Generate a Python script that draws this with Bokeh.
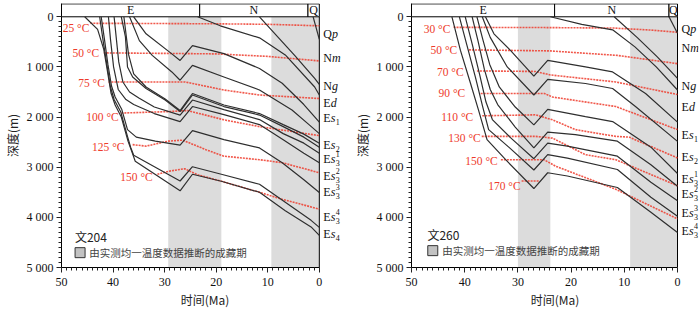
from bokeh.plotting import figure
from bokeh.models import Range1d, FixedTicker
from bokeh.layouts import row
from bokeh.core.properties import value
from bokeh.embed import file_html
from bokeh.resources import INLINE

SERIF = "'Liberation Serif'"
CJK = "'Noto Sans CJK SC'"
RED = "#ee3b2b"
BAND_GRAY = "#dcdcdc"
LINE_COLOR = "#2e2e2e"

# ---------------- axes ----------------
X_TICKS = [0, 10, 20, 30, 40, 50]
X_MINOR = list(range(0, 51))
Y_TICKS = [0, 1000, 2000, 3000, 4000, 5000]
Y_TICK_LABELS = ["0", "1 000", "2 000", "3 000", "4 000", "5 000"]
Y_MINOR = list(range(0, 5001, 100))
PERIOD_NAMES = ["E", "N", "Q"]

# ---------------- well 文204 ----------------
W204_NAME = "文204"
W204_PERIOD_EDGES = [50, 23.2, 2.2, 0]
W204_CHARGE_START = [29.3, 9.3]
W204_CHARGE_END = [19.0, 0.0]

w204_qp_t = [1.2, 0.0]
w204_qp_d = [0, 450]
w204_nm_t = [11.6, 7.8, 4.7, 0.9, 0.0]
w204_nm_d = [0, 430, 780, 1230, 1350]
w204_ng_t = [23.6, 19.2, 11.6, 6.6, 0.9, 0.0]
w204_ng_d = [0, 180, 420, 760, 1400, 1560]
w204_ed_t = [36.0, 33.6, 28.6, 27.0, 24.6, 18.5, 11.6, 7.2, 3.0, 0.0]
w204_ed_d = [0, 340, 740, 870, 575, 735, 1030, 1325, 1750, 2100]
w204_es1_t = [36.8, 34.9, 32.4, 28.6, 27.0, 24.6, 18.5, 11.6, 5.3, 2.0, 0.0]
w204_es1_d = [0, 475, 770, 1100, 1265, 970, 1200, 1460, 1860, 2150, 2330]
w204_es2a_t = [37.9, 37.4, 37.0, 36.0, 33.6, 29.9, 27.0, 24.6, 18.5, 11.6, 7.0, 3.0, 0.0]
w204_es2a_d = [0, 420, 750, 1140, 1400, 1640, 1870, 1530, 1760, 1930, 2150, 2340, 2520]
w204_es2_t = [38.4, 37.6, 37.2, 36.2, 33.6, 29.9, 27.0, 24.6, 18.5, 11.6, 7.0, 3.0, 0.0]
w204_es2_d = [0, 400, 1000, 1200, 1430, 1660, 1890, 1560, 1790, 1960, 2190, 2400, 2600]
w204_es31_t = [39.8, 39.4, 38.9, 38.1, 36.8, 35.0, 32.0, 27.0, 24.6, 18.5, 11.6, 7.0, 3.0, 0.0]
w204_es31_d = [0, 400, 900, 1300, 1500, 1620, 1800, 1960, 1660, 1850, 2050, 2330, 2520, 2720]
w204_es32_t = [40.9, 40.5, 39.9, 39.0, 37.5, 36.0, 32.0, 27.0, 24.6, 18.5, 11.6, 7.0, 3.0, 0.0]
w204_es32_d = [0, 450, 1000, 1450, 1650, 1750, 1930, 2090, 1790, 1950, 2150, 2450, 2720, 2910]
w204_es33_t = [42.3, 41.6, 41.0, 40.3, 39.6, 38.3, 37.2, 35.5, 31.8, 27.0, 24.6, 18.5, 11.6, 7.2, 3.0, 0.0]
w204_es33_d = [0, 500, 950, 1380, 1600, 1850, 2250, 2400, 2480, 2560, 2270, 2450, 2615, 2910, 3250, 3505]
w204_es34_t = [42.6, 41.9, 41.2, 40.5, 39.8, 38.5, 37.3, 36.6, 36.0, 27.0, 24.6, 19.0, 11.6, 6.6, 1.6, 0.0]
w204_es34_d = [0, 500, 950, 1400, 1650, 1900, 2350, 2600, 2760, 3275, 2990, 3140, 3340, 3700, 4060, 4200]
w204_es4_t = [45.5, 43.0, 41.8, 41.1, 40.4, 39.6, 38.4, 37.1, 36.4, 35.7, 27.0, 24.6, 19.0, 11.6, 6.6, 1.6, 0.0]
w204_es4_d = [0, 250, 650, 1080, 1520, 1760, 2000, 2480, 2680, 2880, 3470, 3140, 3280, 3500, 3870, 4190, 4360]

w204_t25_t = [44.4, 30.0, 20.0, 10.0, 0.0]
w204_t25_d = [130, 135, 140, 150, 180]
w204_t50_t = [41.8, 30.0, 20.0, 10.0, 0.0]
w204_t50_d = [720, 730, 740, 790, 880]
w204_t75_t = [40.9, 29.0, 26.0, 18.5, 11.6, 0.0]
w204_t75_d = [1300, 1300, 1300, 1460, 1560, 1630]
w204_t100_t = [38.4, 29.0, 25.5, 18.5, 11.6, 0.0]
w204_t100_d = [1920, 1890, 1870, 2055, 2190, 2370]
w204_t125_t = [36.2, 33.6, 29.3, 26.5, 22.0, 18.5, 11.6, 7.2, 0.0]
w204_t125_d = [2550, 2580, 2480, 2460, 2650, 2780, 2850, 2910, 3110]
w204_t150_t = [31.4, 29.2, 26.1, 23.6, 19.0, 11.6, 7.2, 0.0]
w204_t150_d = [3140, 3080, 3030, 3150, 3280, 3500, 3640, 3835]

W204_TEMP_TEXT = ["25 °C", "50 °C", "75 °C", "100 °C", "125 °C", "150 °C"]
W204_TEMP_TEXT_T = [44.6, 42.7, 41.6, 38.9, 37.8, 32.3]
W204_TEMP_TEXT_D = [217, 730, 1325, 1995, 2590, 3200]

W204_UNITS = ["Qp", "Nm", "Ng", "Ed", "Es1", "Es2", "Es3^1", "Es3^2", "Es3^3", "Es3^4", "Es4"]
W204_UNIT_DEPTH = [336, 830, 1383, 1719, 2016, 2549, 2846, 3182, 3498, 3992, 4328]

# ---------------- well 文260 ----------------
W260_NAME = "文260"
W260_PERIOD_EDGES = [50, 23.1, 1.6, 0]
W260_CHARGE_START = [30.0, 8.9]
W260_CHARGE_END = [23.9, 0.0]

w260_qp_t = [1.6, 0.0]
w260_qp_d = [0, 330]
w260_nm_t = [11.9, 7.5, 3.8, 0.0]
w260_nm_d = [0, 420, 800, 1230]
w260_ng_t = [23.9, 18.0, 12.2, 8.0, 4.0, 0.0]
w260_ng_d = [0, 150, 260, 600, 1000, 1460]
w260_ed_t = [36.1, 34.5, 31.4, 27.0, 24.4, 17.3, 12.2, 6.0, 0.0]
w260_ed_d = [0, 340, 670, 1185, 870, 1000, 1100, 1530, 2100]
w260_es1_t = [36.7, 35.2, 32.0, 27.0, 24.4, 17.3, 12.2, 7.9, 0.0]
w260_es1_d = [0, 410, 1000, 1560, 1250, 1330, 1430, 1790, 2485]
w260_es2_t = [37.7, 36.6, 35.3, 33.5, 30.5, 27.0, 24.4, 17.3, 12.2, 5.0, 0.0]
w260_es2_d = [0, 450, 950, 1400, 1800, 2155, 1845, 1990, 2090, 2600, 3125]
w260_es31_t = [38.6, 37.5, 36.3, 35.2, 33.8, 30.5, 27.0, 24.4, 19.2, 11.3, 5.0, 0.0]
w260_es31_d = [0, 480, 1050, 1450, 1750, 2200, 2615, 2300, 2350, 2480, 2950, 3380]
w260_es32_t = [39.9, 38.6, 37.2, 36.0, 34.8, 31.5, 27.0, 24.4, 20.7, 11.3, 5.0, 0.0]
w260_es32_d = [0, 540, 1150, 1700, 2050, 2400, 2830, 2520, 2580, 2780, 3300, 3670]
w260_es33_t = [41.0, 39.6, 38.0, 36.6, 35.5, 31.5, 27.0, 24.4, 20.7, 11.3, 5.0, 0.0]
w260_es33_d = [0, 560, 1200, 1800, 2250, 2620, 3055, 2750, 2820, 3045, 3600, 3980]
w260_es34_t = [42.4, 40.8, 38.9, 37.4, 35.8, 32.3, 27.0, 24.4, 20.7, 11.3, 5.0, 0.0]
w260_es34_d = [0, 670, 1330, 1860, 2450, 2850, 3425, 3110, 3175, 3405, 3900, 4300]

w260_t30_t = [42.1, 25.0, 12.0, 5.0, 0.0]
w260_t30_d = [210, 215, 225, 265, 310]
w260_t50_t = [39.2, 24.0, 11.3, 0.0]
w260_t50_d = [660, 680, 770, 935]
w260_t70_t = [37.7, 26.7, 23.9, 11.6, 0.0]
w260_t70_d = [1080, 1090, 1160, 1300, 1550]
w260_t90_t = [37.0, 25.0, 23.5, 11.6, 0.0]
w260_t90_d = [1530, 1530, 1600, 1790, 2250]
w260_t110_t = [36.7, 26.7, 23.5, 19.2, 11.6, 9.1, 0.0]
w260_t110_d = [1975, 1955, 2055, 2250, 2385, 2400, 2815]
w260_t130_t = [36.8, 26.7, 23.5, 17.3, 11.6, 0.0]
w260_t130_d = [2385, 2385, 2420, 2750, 2850, 3370]
w260_t150_t = [33.2, 25.1, 22.9, 11.6, 0.0]
w260_t150_d = [2850, 2850, 2980, 3440, 4030]
w260_t170_t = [29.3, 26.1]
w260_t170_d = [3275, 3275]

W260_TEMP_TEXT = ["30 °C", "50 °C", "70 °C", "90 °C", "110 °C", "130 °C", "150 °C", "170 °C"]
W260_TEMP_TEXT_T = [42.7, 41.4, 40.2, 39.9, 38.4, 37.0, 33.8, 29.5]
W260_TEMP_TEXT_D = [237, 672, 1107, 1520, 1996, 2411, 2885, 3380]

W260_UNITS = ["Qp", "Nm", "Ng", "Ed", "Es1", "Es2", "Es3^1", "Es3^2", "Es3^3", "Es3^4"]
W260_UNIT_DEPTH = [237, 632, 1383, 1798, 2352, 2806, 3241, 3538, 3913, 4269]

LEGEND_TEXT = "由实测均一温度数据推断的成藏期"

W204_LINES = [(w204_qp_t, w204_qp_d), (w204_nm_t, w204_nm_d), (w204_ng_t, w204_ng_d),
              (w204_ed_t, w204_ed_d), (w204_es1_t, w204_es1_d), (w204_es2a_t, w204_es2a_d),
              (w204_es2_t, w204_es2_d), (w204_es31_t, w204_es31_d), (w204_es32_t, w204_es32_d),
              (w204_es33_t, w204_es33_d), (w204_es34_t, w204_es34_d), (w204_es4_t, w204_es4_d)]
W204_ISO = [(w204_t25_t, w204_t25_d), (w204_t50_t, w204_t50_d), (w204_t75_t, w204_t75_d),
            (w204_t100_t, w204_t100_d), (w204_t125_t, w204_t125_d), (w204_t150_t, w204_t150_d)]
W260_LINES = [(w260_qp_t, w260_qp_d), (w260_nm_t, w260_nm_d), (w260_ng_t, w260_ng_d),
              (w260_ed_t, w260_ed_d), (w260_es1_t, w260_es1_d), (w260_es2_t, w260_es2_d),
              (w260_es31_t, w260_es31_d), (w260_es32_t, w260_es32_d), (w260_es33_t, w260_es33_d),
              (w260_es34_t, w260_es34_d)]
W260_ISO = [(w260_t30_t, w260_t30_d), (w260_t50_t, w260_t50_d), (w260_t70_t, w260_t70_d),
            (w260_t90_t, w260_t90_d), (w260_t110_t, w260_t110_d), (w260_t130_t, w260_t130_d),
            (w260_t150_t, w260_t150_d), (w260_t170_t, w260_t170_d)]

# ---------------- layout / style helpers ----------------
BASE_W = {"E": 7.4, "N": 8.7, "Q": 8.7}
ITAL_W = {"s": 4.8, "d": 6.0, "p": 6.0, "m": 8.7, "g": 6.0}
BAND_TOP = -257
RANGE_TOP = -265
HEIGHT = 310


def unit_labels(p, names, depths):
    bases, itals, x_it = [], [], []
    subs, sub_y, sub_x = [], [], []
    sups, sup_y, sup_x = [], [], []
    x0 = 4
    for name, dep in zip(names, depths):
        base, ital, rest = name[0], name[1], name[2:]
        bases.append(base)
        itals.append(ital)
        x1 = x0 + BASE_W[base]
        x_it.append(x1)
        x2 = x1 + ITAL_W[ital] + 0.3
        if rest:
            if "^" in rest:
                sub, sup = rest.split("^")
                sups.append(sup)
                sup_y.append(dep)
                sup_x.append(x2)
            else:
                sub = rest
            subs.append(sub)
            sub_y.append(dep)
            sub_x.append(x2)
    n = len(names)
    p.text(x=[0] * n, y=depths, text=bases, x_offset=x0, text_font=value(SERIF),
           text_font_size="12px", text_baseline="middle", text_color="#111")
    p.text(x=[0] * n, y=depths, text=itals, x_offset=x_it, text_font=value(SERIF),
           text_font_style="italic", text_font_size="12px", text_baseline="middle",
           text_color="#111")
    p.text(x=[0] * len(subs), y=sub_y, text=subs, x_offset=sub_x, y_offset=4,
           text_font=value(SERIF), text_font_size="8px", text_baseline="middle",
           text_color="#111")
    p.text(x=[0] * len(sups), y=sup_y, text=sups, x_offset=sup_x, y_offset=-5,
           text_font=value(SERIF), text_font_size="8px", text_baseline="middle",
           text_color="#111")


def make_panel(width, bl, px_per_ma, name, edges, cs, ce, lines, isos, ttext, tt, td,
               units, udepth, name_pos, box_pos, legend_pos):
    br = 2
    frame_w = width - bl - br
    x_end = -(frame_w - 50 * px_per_ma) / px_per_ma
    p = figure(width=width, height=HEIGHT, x_range=Range1d(50, x_end),
               y_range=Range1d(5000, RANGE_TOP),
               output_backend="svg", toolbar_location=None,
               min_border_left=bl, min_border_right=br, min_border_top=3, min_border_bottom=41)
    p.xgrid.visible = False
    p.ygrid.visible = False
    p.outline_line_color = None
    for ax in (p.xaxis[0], p.yaxis[0]):
        ax.axis_line_color = "black"
        ax.major_tick_out = 5
        ax.major_tick_in = 0
        ax.minor_tick_out = 3
        ax.minor_tick_in = 0
        ax.major_tick_line_color = "#222"
        ax.minor_tick_line_color = "#222"
        ax.major_label_text_font = SERIF
        ax.major_label_text_font_size = "12px"
        ax.major_label_text_color = "#111"
        ax.axis_label_text_font = CJK
        ax.axis_label_text_font_size = "12px"
        ax.axis_label_text_font_style = "normal"
        ax.axis_label_text_color = "#222"
    p.xaxis.major_label_standoff = 5
    p.xaxis.axis_label_standoff = 2
    p.yaxis.major_label_standoff = 3
    p.yaxis.axis_label_standoff = 3
    p.xaxis.bounds = (0, 50)
    p.yaxis.bounds = (BAND_TOP, 5000)
    p.xaxis.ticker = FixedTicker(ticks=X_TICKS, minor_ticks=X_MINOR)
    p.yaxis.ticker = FixedTicker(ticks=Y_TICKS, minor_ticks=Y_MINOR)
    p.yaxis.major_label_overrides = {t: s for t, s in zip(Y_TICKS, Y_TICK_LABELS)}
    p.xaxis.axis_label = "时间(Ma)"
    p.yaxis.axis_label = "深度(m)"

    # charge periods
    p.quad(left=cs, right=ce, top=[0] * len(cs), bottom=[5000] * len(cs),
           fill_color=BAND_GRAY, line_color=None)
    # geologic period band
    p.quad(left=edges[:-1], right=edges[1:], top=[BAND_TOP] * 3, bottom=[0] * 3,
           fill_color="white", line_color="black", line_width=1)
    centers = [(a + b) / 2 for a, b in zip(edges[:-1], edges[1:])]
    p.text(x=centers, y=[BAND_TOP / 2] * 3, text=PERIOD_NAMES, text_font=value(SERIF),
           text_font_size="12px", text_align="center", text_baseline="middle", text_color="#111")
    # right border of the plot at 0 Ma
    p.segment(x0=[0], y0=[0], x1=[0], y1=[5000], line_color="black", line_width=1)

    for t, d in isos:
        p.line(t, d, line_color=RED, line_width=1.6, line_dash="2 1", line_alpha=0.85)
    for t, d in lines:
        p.line(t, d, line_color=LINE_COLOR, line_width=1.2)

    p.text(x=tt, y=td, text=ttext, text_font=value(SERIF), text_font_size="11.5px",
           text_color=RED, text_align="right", text_baseline="middle")

    unit_labels(p, units, udepth)

    p.text(x=[name_pos[0]], y=[name_pos[1]], text=[name], text_font=value(CJK),
           text_font_size="12px", text_color="#222", text_baseline="middle")
    p.scatter(x=[box_pos[0]], y=[box_pos[1]], marker="square", size=10,
              fill_color="#c2c2c2", line_color="#333", line_width=1)
    p.text(x=[legend_pos[0]], y=[legend_pos[1]], text=[LEGEND_TEXT], text_font=value(CJK),
           text_font_size="10.5px", text_color="#444", text_baseline="middle")
    return p


p1 = make_panel(350, 53, 5.3, W204_NAME, W204_PERIOD_EDGES, W204_CHARGE_START, W204_CHARGE_END,
                W204_LINES, W204_ISO, W204_TEMP_TEXT, W204_TEMP_TEXT_T, W204_TEMP_TEXT_D,
                W204_UNITS, W204_UNIT_DEPTH, (47.4, 4374), (46.4, 4704), (44.6, 4704))
p2 = make_panel(350, 61, 5.32, W260_NAME, W260_PERIOD_EDGES, W260_CHARGE_START, W260_CHARGE_END,
                W260_LINES, W260_ISO, W260_TEMP_TEXT, W260_TEMP_TEXT_T, W260_TEMP_TEXT_D,
                W260_UNITS, W260_UNIT_DEPTH, (47.0, 4348), (46.0, 4664), (44.2, 4664))

layout = row(p1, p2)
open("out.html", "w").write(file_html(layout, INLINE))
